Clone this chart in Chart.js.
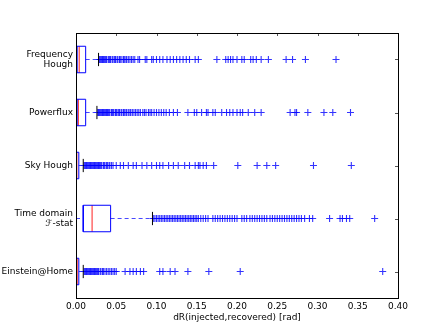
<!DOCTYPE html>
<html>
<head>
<meta charset="utf-8">
<script src="https://cdn.jsdelivr.net/npm/chart.js@4"></script>
<style>
  html, body { margin: 0; padding: 0; background: #fff; }
  #wrap { width: 443px; height: 332px; }
</style>
</head>
<body>
<div id="wrap"><canvas id="chart" width="443" height="332"></canvas></div>
<script>
// --- Data (top to bottom in the picture) ---
const categories = [['Frequency', 'Hough'], 'Powerflux', 'Sky Hough', ['Time domain', 'ℱ-stat'], 'Einstein@Home'];
const positions = [5, 4, 3, 2, 1];

const q1 = [0.001, 0.001, 0.0003, 0.009, 0.0003];
const medians = [0.004, 0.003, 0.001, 0.020, 0.0015];
const q3 = [0.012, 0.012, 0.0035, 0.043, 0.0035];
const whiskerLow = [0, 0, 0, 0, 0];
const whiskerHigh = [0.028, 0.026, 0.009, 0.095, 0.009];

const outliersFreqHough = [0.029, 0.030, 0.031, 0.032, 0.033, 0.034, 0.035, 0.036, 0.037, 0.038, 0.040, 0.041, 0.042, 0.043,
  0.045, 0.046, 0.048, 0.049, 0.051, 0.052, 0.054, 0.055, 0.057, 0.059, 0.060, 0.062, 0.063, 0.065, 0.067, 0.069, 0.071,
  0.073, 0.077, 0.079, 0.086, 0.088, 0.094, 0.096, 0.100, 0.104, 0.108, 0.113, 0.117, 0.121, 0.125, 0.129, 0.133, 0.137,
  0.141, 0.148, 0.152, 0.175, 0.186, 0.189, 0.192, 0.195, 0.200, 0.206, 0.209, 0.217, 0.220, 0.224, 0.230, 0.239, 0.261,
  0.269, 0.285, 0.323];
const outliersPowerflux = [0.027, 0.028, 0.029, 0.030, 0.031, 0.032, 0.033, 0.034, 0.035, 0.036, 0.037, 0.038, 0.039, 0.040,
  0.041, 0.042, 0.044, 0.045, 0.046, 0.047, 0.049, 0.050, 0.051, 0.053, 0.054, 0.056, 0.057, 0.059, 0.060, 0.062, 0.063,
  0.065, 0.067, 0.068, 0.070, 0.072, 0.074, 0.076, 0.078, 0.080, 0.083, 0.085, 0.087, 0.090, 0.092, 0.094, 0.097, 0.100,
  0.103, 0.106, 0.109, 0.112, 0.116, 0.121, 0.126, 0.139, 0.147, 0.150, 0.156, 0.162, 0.164, 0.170, 0.173, 0.181, 0.187,
  0.191, 0.195, 0.200, 0.204, 0.207, 0.214, 0.222, 0.230, 0.266, 0.272, 0.274, 0.288, 0.308, 0.319, 0.341];
const outliersSkyHough = [0.010, 0.011, 0.012, 0.013, 0.014, 0.015, 0.016, 0.017, 0.018, 0.019, 0.020, 0.021, 0.022, 0.023,
  0.024, 0.025, 0.026, 0.027, 0.028, 0.029, 0.030, 0.031, 0.032, 0.034, 0.035, 0.036, 0.038, 0.039, 0.041, 0.042, 0.044,
  0.046, 0.050, 0.055, 0.059, 0.065, 0.071, 0.075, 0.082, 0.088, 0.094, 0.100, 0.104, 0.108, 0.115, 0.121, 0.127, 0.135,
  0.141, 0.148, 0.152, 0.154, 0.158, 0.162, 0.171, 0.201, 0.225, 0.237, 0.248, 0.295, 0.342];
const outliersTimeDomain = [0.096, 0.098, 0.100, 0.102, 0.104, 0.106, 0.108, 0.110, 0.112, 0.114, 0.116, 0.118, 0.120, 0.122,
  0.124, 0.126, 0.128, 0.130, 0.132, 0.134, 0.136, 0.138, 0.140, 0.142, 0.144, 0.146, 0.148, 0.150, 0.152, 0.155, 0.158,
  0.161, 0.164, 0.170, 0.173, 0.176, 0.179, 0.182, 0.185, 0.188, 0.191, 0.194, 0.197, 0.200, 0.206, 0.209, 0.212, 0.216,
  0.219, 0.222, 0.225, 0.228, 0.231, 0.234, 0.237, 0.241, 0.244, 0.247, 0.250, 0.253, 0.256, 0.259, 0.262, 0.265, 0.268,
  0.271, 0.274, 0.277, 0.280, 0.284, 0.290, 0.294, 0.315, 0.328, 0.331, 0.336, 0.340, 0.371];
const outliersEinstein = [0.010, 0.011, 0.012, 0.013, 0.014, 0.015, 0.016, 0.017, 0.018, 0.019, 0.020, 0.021, 0.022, 0.023,
  0.024, 0.025, 0.026, 0.027, 0.028, 0.030, 0.031, 0.033, 0.034, 0.036, 0.038, 0.040, 0.042, 0.044, 0.046, 0.048, 0.050,
  0.061, 0.067, 0.071, 0.075, 0.080, 0.084, 0.104, 0.108, 0.117, 0.123, 0.139, 0.165, 0.204, 0.381];
const outliers = [outliersFreqHough, outliersPowerflux, outliersSkyHough, outliersTimeDomain, outliersEinstein];

const xTicks = [0, 0.05, 0.10, 0.15, 0.20, 0.25, 0.30, 0.35, 0.40];
const xTitle = 'dR(injected,recovered) [rad]';

// --- Styles ---
const BLUE = 'rgb(0,0,255)';
const RED = 'rgb(255,70,70)';
const BOX_HALF = 0.25;
const CAP_HALF = 0.125;
const FONT = { family: 'DejaVu Sans', size: 9, lineHeight: 1.15 };

function seg(points, color, extra) {
  return Object.assign({
    type: 'scatter',
    data: points,
    showLine: true,
    borderColor: color,
    borderWidth: 1,
    pointRadius: 0,
    fill: false
  }, extra || {});
}

const datasets = [];
positions.forEach((p, i) => {
  // box
  datasets.push(seg([
    { x: q1[i], y: p - BOX_HALF }, { x: q3[i], y: p - BOX_HALF },
    { x: q3[i], y: p + BOX_HALF }, { x: q1[i], y: p + BOX_HALF },
    { x: q1[i], y: p - BOX_HALF }
  ], BLUE));
  // median
  datasets.push(seg([{ x: medians[i], y: p - BOX_HALF }, { x: medians[i], y: p + BOX_HALF }], RED, { borderWidth: 1.2 }));
  // whiskers
  datasets.push(seg([{ x: q3[i], y: p }, { x: whiskerHigh[i], y: p }], 'rgba(40,40,255,0.85)', { borderDash: [4, 3] }));
  datasets.push(seg([{ x: whiskerLow[i], y: p }, { x: q1[i], y: p }], 'rgba(40,40,255,0.85)', { borderDash: [4, 3] }));
  // caps
  datasets.push(seg([{ x: whiskerHigh[i], y: p - CAP_HALF }, { x: whiskerHigh[i], y: p + CAP_HALF }], '#000'));
  datasets.push(seg([{ x: whiskerLow[i], y: p - CAP_HALF }, { x: whiskerLow[i], y: p + CAP_HALF }], '#000'));
  // fliers
  datasets.push({
    type: 'scatter',
    data: outliers[i].map(v => ({ x: v, y: p })),
    pointStyle: 'cross',
    pointRadius: 3.5,
    borderColor: 'rgba(0,0,255,0.8)',
    borderWidth: 1.1,
    showLine: false
  });
});

// frame + inward ticks like matplotlib
const framePlugin = {
  id: 'frame',
  afterDatasetsDraw(chart) {
    const { ctx, chartArea: a, scales } = chart;
    ctx.save();
    ctx.strokeStyle = '#555';
    ctx.lineWidth = 1;
    ctx.beginPath();
    xTicks.forEach(v => {
      const x = Math.round(scales.x.getPixelForValue(v)) + 0.5;
      ctx.moveTo(x, a.top); ctx.lineTo(x, a.top + 3);
    });
    positions.forEach(p => {
      const y = Math.round(scales.y.getPixelForValue(p)) + 0.5;
      ctx.moveTo(a.right, y); ctx.lineTo(a.right - 3, y);
    });
    ctx.stroke();
    ctx.strokeStyle = '#000';
    ctx.strokeRect(Math.round(a.left) + 0.5, Math.round(a.top) + 0.5,
      Math.round(a.right - a.left), Math.round(a.bottom - a.top));
    ctx.restore();
  }
};

new Chart(document.getElementById('chart'), {
  type: 'scatter',
  data: { datasets },
  options: {
    responsive: false,
    animation: false,
    events: [],
    layout: { padding: { left: 0, top: 33, right: 45, bottom: 0 } },
    plugins: { legend: { display: false }, tooltip: { enabled: false } },
    scales: {
      x: {
        type: 'linear',
        min: 0, max: 0.4,
        afterBuildTicks: s => { s.ticks = xTicks.map(v => ({ value: v })); },
        afterFit: s => { s.height = 34; },
        grid: { display: false, drawTicks: false },
        border: { display: false },
        ticks: { color: '#000', font: FONT, padding: 3, maxRotation: 0, callback: v => v.toFixed(2) },
        title: { display: true, text: xTitle, color: '#000', font: FONT, padding: { top: 0, bottom: 9 } }
      },
      y: {
        type: 'linear',
        min: 0.5, max: 5.5,
        afterBuildTicks: s => { s.ticks = positions.map(v => ({ value: v })); },
        afterFit: s => { s.width = 76; },
        grid: { display: false, drawTicks: false },
        border: { display: false },
        ticks: {
          color: '#000', font: FONT, padding: 3,
          callback: v => categories[positions.indexOf(v)]
        }
      }
    }
  },
  plugins: [framePlugin]
});
</script>
</body>
</html>
